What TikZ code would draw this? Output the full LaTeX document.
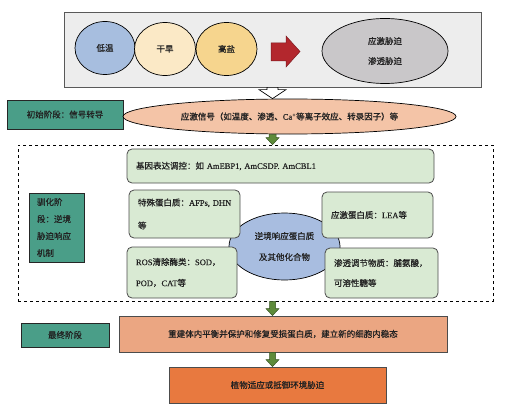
\documentclass[tikz,border=0pt]{standalone}
\usepackage{fontspec}
\setmainfont{Liberation Serif}[FakeBold=0.4]
\newfontfamily\cjk{Noto Sans CJK SC}[FakeBold=0.6]
\usetikzlibrary{shapes.geometric,calc}
\newcommand{\lat}[1]{{\rmfamily #1}}
\definecolor{topfill}{HTML}{EDEDED}
\definecolor{lowtemp}{HTML}{A7BEDF}
\definecolor{drought}{HTML}{FBE9C6}
\definecolor{saltc}{HTML}{F6D58E}
\definecolor{redarr}{HTML}{B3272D}
\definecolor{grayell}{HTML}{C9C7C9}
\definecolor{teal}{HTML}{4A9E88}
\definecolor{sigfill}{HTML}{F4C4A7}
\definecolor{gfill}{HTML}{D9EAD3}
\definecolor{cfill}{HTML}{A8BDE0}
\definecolor{garr}{HTML}{5E8B3A}
\definecolor{recfill}{HTML}{EBA682}
\definecolor{finfill}{HTML}{E8793F}
\definecolor{txt}{HTML}{222222}
\newcommand{\vblock}[6]{%
  \path[#1] let \p1=(#2), \p2=(#3) in
   (\x1-#4,\y1) -- (\x1+#4,\y1) -- (\x1+#4,\y2+#6) -- (\x1+#5,\y2+#6) --
   (\x1,\y2) -- (\x1-#5,\y2+#6) -- (\x1-#4,\y2+#6) -- cycle;}
\tikzset{
  base/.style={font=\cjk\fontsize{8.5}{10}\selectfont, text=txt, inner sep=0pt},
  ell/.style={base, ellipse, draw=black, line width=0.7pt},
  stagebox/.style={base, rectangle, draw=black!85, fill=teal, line width=0.9pt},
  gbox/.style={base, rectangle, rounded corners=5pt, draw=black!70, fill=gfill, line width=0.8pt, align=left, inner xsep=9pt},
  flatbox/.style={base, rectangle, draw=black!70, line width=0.8pt},
  greenarrow/.style={fill=garr, draw=garr!60!black, line width=0.5pt},
}
\begin{document}
\begin{tikzpicture}[x=1pt,y=-1pt]
\useasboundingbox (0,0) rectangle (518,409);
% top box
\node[flatbox, fill=topfill, draw=black!65, minimum width=417pt, minimum height=75pt] (top) at (272.5,49.5) {};
\node[ell, fill=lowtemp, minimum width=60pt, minimum height=53pt] (low) at (105,48) {低温};
\node[ell, fill=drought, minimum width=61pt, minimum height=53pt] (dry) at (165,49) {干旱};
\node[ell, fill=saltc, minimum width=61pt, minimum height=53pt] (salt) at (226.5,49) {高盐};
\node[ell, fill=grayell, minimum width=126pt, minimum height=65pt, align=center, font=\cjk\fontsize{8.5}{20}\selectfont] (stress) at (385,51) {应激胁迫\\渗透胁迫};
\path[fill=redarr, draw=redarr!70!black, line width=0.5pt]
  (271,43) -- (286,43) -- (286,36) -- (300,51.5) -- (286,67) -- (286,61) -- (271,61) -- cycle;
% stage 1
\node[stagebox, minimum width=116pt, minimum height=29pt] (s1) at (65,114.5) {初始阶段：信号转导};
\node[ell, fill=sigfill, minimum width=333pt, minimum height=35pt] (sig) at (289.5,116.5)
  {应激信号（如温度、渗透、\lat{Ca}\textsuperscript{\lat{+}}等离子效应、转录因子）等};
\vblock{fill=white, draw=black, line width=0.7pt}{top.south}{sig.north -| top.south}{5.5pt}{13.5pt}{9pt}
% acclimation
\node[base, draw=black, dashed, line width=0.7pt, minimum width=475pt, minimum height=156pt] (accl) at (255.5,223) {};
\vblock{greenarrow}{sig.south -| top.south}{accl.north -| top.south}{3.5pt}{6.5pt}{7pt}
\node[stagebox, minimum width=55pt, minimum height=69pt, text width=39pt, align=left, font=\cjk\fontsize{8.5}{17}\selectfont] (s2) at (56.5,227.5) {驯化阶\\段：逆境\\胁迫响应\\机制};
\node[gbox, minimum height=34pt, text width=289pt] (gene) at (280.5,166) {基因表达调控：如 \lat{AmEBP1, AmCSDP. AmCBL1}};
\node[ell, fill=cfill, minimum width=111pt, minimum height=67pt, align=center, font=\cjk\fontsize{8.5}{21}\selectfont] (center) at (284.5,246.5) {逆境响应蛋白质\\及其他化合物};
\node[gbox, minimum height=48pt, text width=93pt, font=\cjk\fontsize{8.5}{23}\selectfont] (special) at (184.5,214) {\mbox{特殊蛋白质：\lat{AFPs, DHN}}\\等};
\node[gbox, minimum height=46pt, text width=93pt] (sprot) at (377.5,215) {应激蛋白质：\lat{LEA}等};
\node[gbox, minimum height=51pt, text width=92pt, font=\cjk\fontsize{8.5}{21}\selectfont] (ros) at (182,272.5) {\mbox{\lat{ROS}清除酶类：\lat{SOD}，}\\\lat{POD}，\lat{CAT}等};
\node[gbox, minimum height=50pt, text width=95pt, font=\cjk\fontsize{8.5}{20}\selectfont] (osm) at (381.5,273) {\mbox{渗透调节物质：脯氨酸，}\\可溶性糖等};
% final stage
\node[stagebox, minimum width=88pt, minimum height=24pt] (s3) at (65,335) {最终阶段};
\node[flatbox, fill=recfill, minimum width=328pt, minimum height=36pt] (recon) at (283,334) {重建体内平衡并保护和修复受损蛋白质，建立新的细胞内稳态};
\node[flatbox, fill=finfill, minimum width=217pt, minimum height=36pt] (final) at (277.5,385) {植物适应或抵御环境胁迫};
\vblock{greenarrow}{accl.south -| top.south}{recon.north -| top.south}{3pt}{6.5pt}{7pt}
\vblock{greenarrow}{recon.south -| top.south}{final.north -| top.south}{3pt}{6.5pt}{7pt}
\end{tikzpicture}
\end{document}
